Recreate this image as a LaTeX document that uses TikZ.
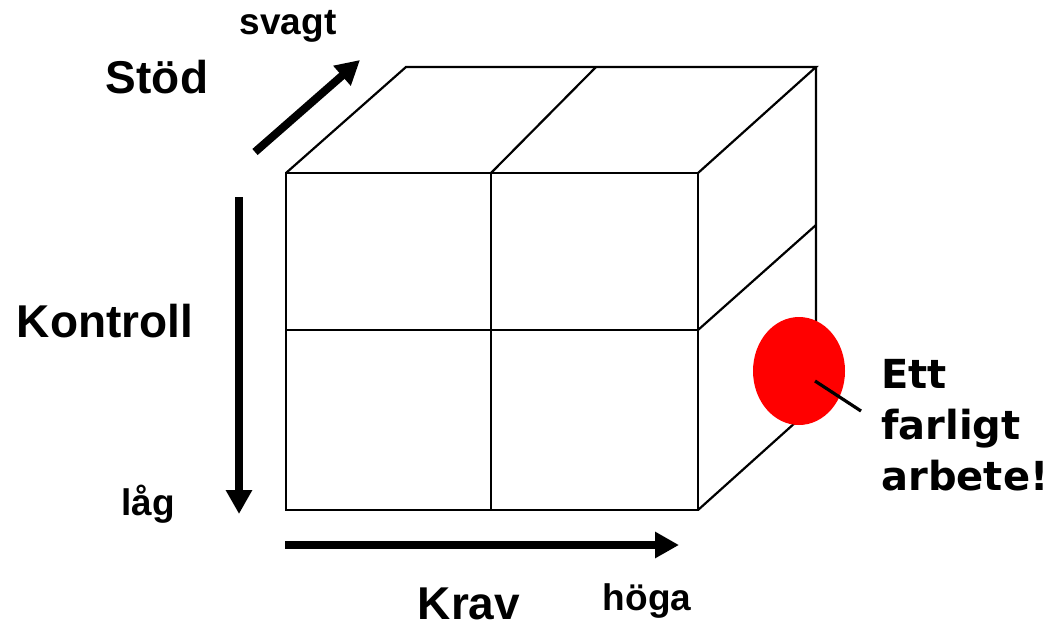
\documentclass[tikz,border=0pt]{standalone}
\usepackage{fontspec}
\setmainfont{Liberation Sans}
\newfontfamily\calloutfont{DejaVu Sans}
\usetikzlibrary{arrows.meta,shapes.geometric}
\begin{document}
\begin{tikzpicture}[x=0.5pt,y=-0.5pt,
  edge/.style={line width=1.1pt, line join=miter},
  bigarrow/.style={line width=4pt, -{Triangle[length=12pt,width=12.5pt]}},
  biglabel/.style={font=\bfseries\fontsize{23}{27}\selectfont, inner sep=0pt, anchor=base},
  smalllabel/.style={font=\bfseries\fontsize{18.5}{22}\selectfont, inner sep=0pt, anchor=base},
  callout/.style={font=\calloutfont\bfseries\fontsize{20}{25.5}\selectfont, inner sep=0pt, align=left, anchor=base west}]
\useasboundingbox (0,0) rectangle (1052,626);
% cube corners
\coordinate (ftl) at (286,173);
\coordinate (ftm) at (491,173);
\coordinate (ftr) at (698,173);
\coordinate (fml) at (286,330);
\coordinate (fmr) at (698,330);
\coordinate (fbl) at (286,510);
\coordinate (fbm) at (491,510);
\coordinate (fbr) at (698,510);
\coordinate (btl) at (406,67);
\coordinate (btm) at (596,67);
\coordinate (btr) at (816,67);
\coordinate (bmr) at (816,225);
\coordinate (bbr) at (816,404);
% front face
\draw[edge] (ftl) rectangle (fbr);
\draw[edge] (ftm) -- (fbm);
\draw[edge] (fml) -- (fmr);
% top face
\draw[edge] (ftl) -- (btl) -- (btr) -- (ftr);
\draw[edge] (ftm) -- (btm);
% right face
\draw[edge] (btr) -- (bbr) -- (fbr);
\draw[edge] (fmr) -- (bmr);
% red spot and pointer
\node[ellipse, fill=red, draw=none, minimum width=46pt, minimum height=54pt, inner sep=0pt] (spot) at (799,371) {};
\coordinate (p1) at (815,381);
\coordinate (p2) at (861,411);
\draw[line width=1.6pt] (p1) -- (p2);
\node[callout] (txt) at (881,490) {Ett\\farligt\\arbete!};
% axis arrows
\coordinate (s0) at (255,152);
\coordinate (s1) at (360,60);
\draw[bigarrow] (s0) -- (s1);
\coordinate (k0) at (239,197);
\coordinate (k1) at (239,514);
\draw[bigarrow] (k0) -- (k1);
\coordinate (r0) at (285,545);
\coordinate (r1) at (679,545);
\draw[bigarrow] (r0) -- (r1);
% labels
\node[biglabel] (stod) at (157,93) {Stöd};
\node[smalllabel] (svagt) at (288,35) {svagt};
\node[biglabel] (kontroll) at (105,337) {Kontroll};
\node[smalllabel] (lag) at (148,515) {låg};
\node[biglabel] (krav) at (469,619) {Krav};
\node[smalllabel] (hoga) at (647,610) {höga};
\end{tikzpicture}
\end{document}
